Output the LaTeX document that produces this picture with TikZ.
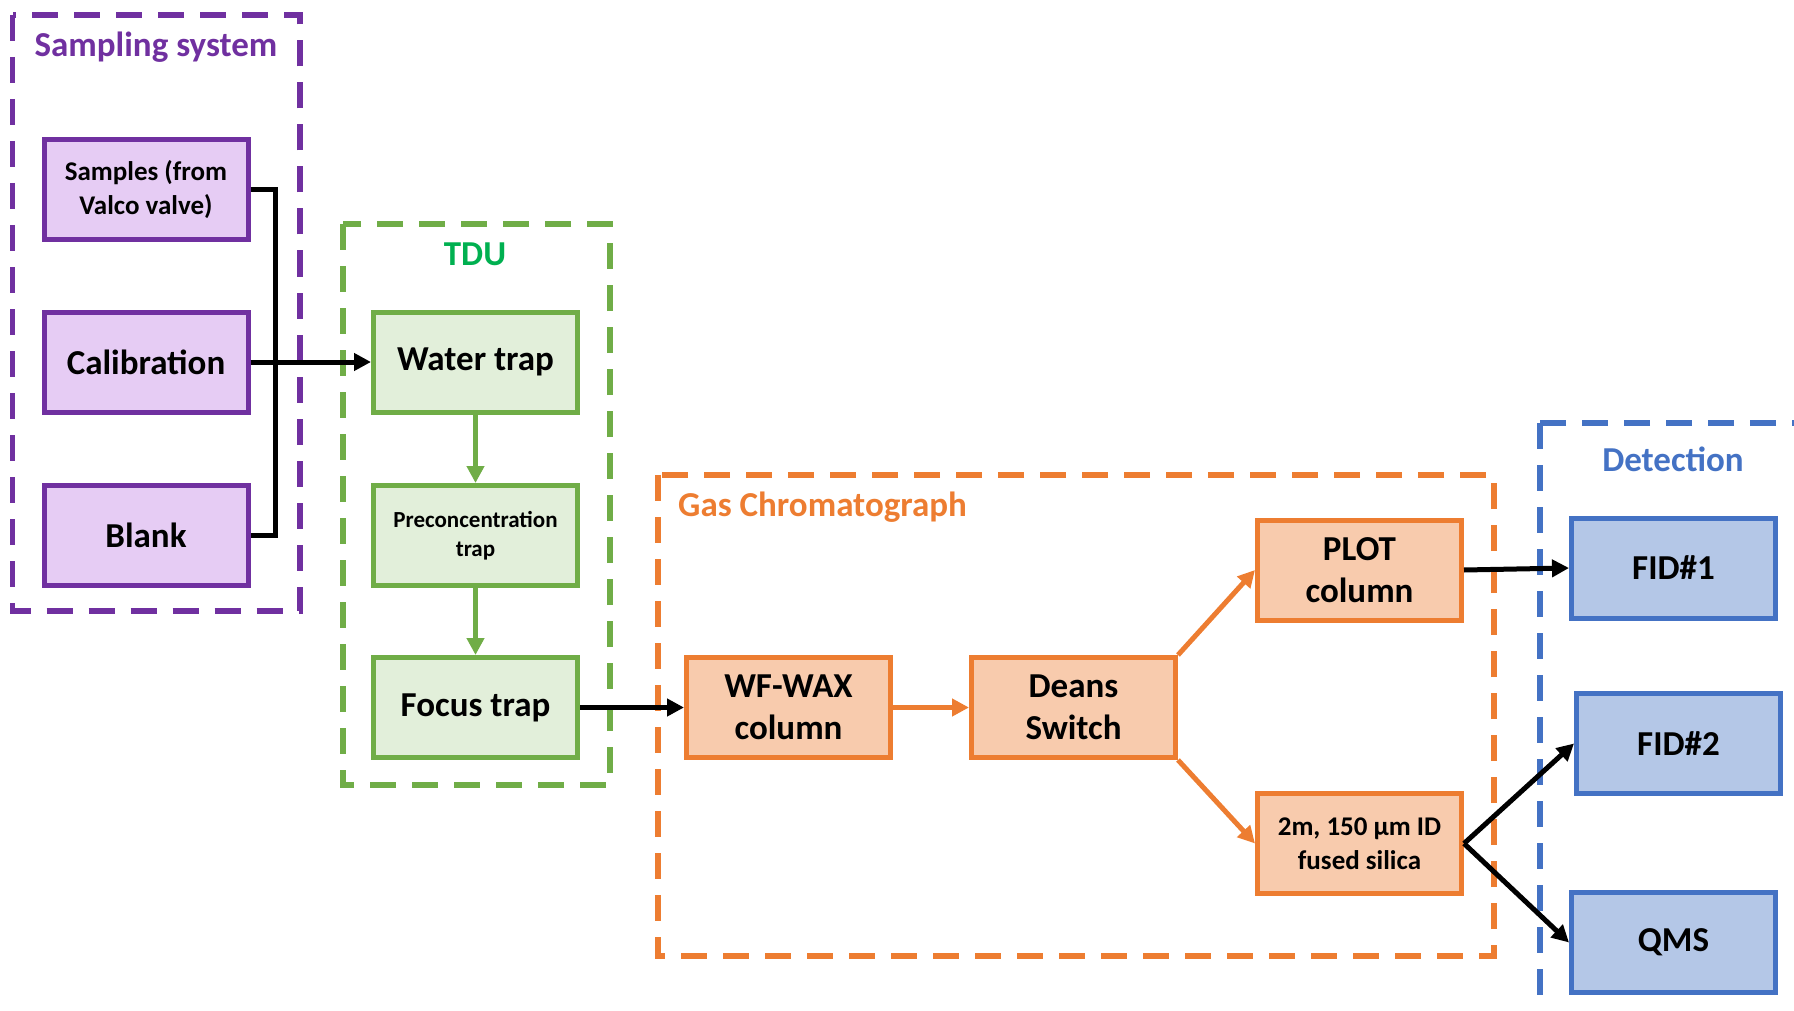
\documentclass[tikz,border=0pt]{standalone}
\usepackage{fontspec}
\setmainfont{Carlito}
\usetikzlibrary{arrows.meta}

\definecolor{purpleline}{HTML}{7030A0}
\definecolor{purplefill}{HTML}{E6CCF4}
\definecolor{greenline}{HTML}{70AD47}
\definecolor{greenfill}{HTML}{E2EFDA}
\definecolor{greentitle}{HTML}{00B050}
\definecolor{orangeline}{HTML}{ED7D31}
\definecolor{orangefill}{HTML}{F8CBAD}
\definecolor{blueline}{HTML}{4472C4}
\definecolor{bluefill}{HTML}{B4C7E7}

\tikzset{
  unitbox/.style={draw, line width=5pt, rectangle, minimum width=204pt, minimum height=100pt,
    align=center, font=\bfseries\fontsize{35}{42}\selectfont, inner sep=2pt},
  sampbox/.style={unitbox, draw=purpleline, fill=purplefill},
  tdubox/.style={unitbox, draw=greenline, fill=greenfill},
  gcbox/.style={unitbox, draw=orangeline, fill=orangefill},
  detbox/.style={unitbox, draw=blueline, fill=bluefill},
  groupbox/.style={line width=5.5pt, dash pattern=on 26pt off 16pt},
  grouptitle/.style={font=\bfseries\fontsize{35}{42}\selectfont, inner sep=0pt},
  conn/.style={line width=5pt, black},
  blackarrow/.style={conn, -{Triangle[length=17pt,width=17pt]}},
  greenarrow/.style={line width=5pt, greenline, -{Triangle[length=17pt,width=17pt]}},
  orangearrow/.style={line width=5pt, orangeline, -{Triangle[length=17pt,width=17pt]}},
}

\begin{document}
\begin{tikzpicture}[x=1pt, y=-1pt]
  \useasboundingbox (0,0) rectangle (1794,1011);
  \clip (0,0) rectangle (1794,1011);

  % group frames
  \draw[groupbox, purpleline] (12.5,15) rectangle (300,611);
  \draw[groupbox, greenline] (343,224) rectangle (610,785);
  \draw[groupbox, orangeline] (658,475) rectangle (1494,956);
  \draw[groupbox, blueline] (1540,423) rectangle (1840,1060);

  % group titles
  \node[grouptitle, text=purpleline] (tsamp) at (156,47) {Sampling system};
  \node[grouptitle, text=greentitle] (ttdu) at (475,254) {TDU};
  \node[grouptitle, text=orangeline, anchor=west] (tgc) at (678,507) {Gas Chromatograph};
  \node[grouptitle, text=blueline] (tdet) at (1673,459) {Detection};

  % sampling system
  \node[sampbox, font=\bfseries\fontsize{27}{34}\selectfont] (samples) at (146,189.5) {Samples (from\\Valco valve)};
  \node[sampbox] (calib) at (146,362) {Calibration};
  \node[sampbox] (blank) at (146,535.5) {Blank};

  % thermal desorption unit
  \node[tdubox] (water) at (475.5,362) {Water trap};
  \node[tdubox, font=\bfseries\fontsize{23}{29}\selectfont] (precon) at (475.5,535.5) {Preconcentration\\trap};
  \node[tdubox] (focus) at (475.5,707.5) {Focus trap};

  % gas chromatograph
  \node[gcbox] (wax) at (788.5,707.5) {WF-WAX\\column};
  \node[gcbox] (deans) at (1073.5,707.5) {Deans\\Switch};
  \node[gcbox] (plot) at (1359.5,570) {PLOT\\column};
  \node[gcbox, font=\bfseries\fontsize{27}{34}\selectfont] (silica) at (1359.5,843.5) {2m, 150 µm ID\\fused silica};

  % detectors
  \node[detbox] (fid1) at (1673.5,568) {FID\#1};
  \node[detbox] (fid2) at (1678.5,743.5) {FID\#2};
  \node[detbox] (qms) at (1673.5,942.5) {QMS};

  % sample selection manifold
  \coordinate (bus) at (275,0);
  \draw[conn] (samples.east) -- (samples.east -| bus) -- (blank.east -| bus) -- (blank.east);
  \draw[blackarrow] (calib.east) -- (water.west);

  % flow path
  \draw[greenarrow] (water.south) -- (precon.north);
  \draw[greenarrow] (precon.south) -- (focus.north);
  \draw[blackarrow] (focus.east) -- (wax.west);
  \draw[orangearrow] (wax.east) -- (deans.west);
  \draw[orangearrow] (deans.north east) -- (plot.west);
  \draw[orangearrow] (deans.south east) -- (silica.west);
  \draw[blackarrow] (plot.east) -- (fid1.west);
  \draw[blackarrow] (silica.east) -- (fid2.west);
  \draw[blackarrow] (silica.east) -- (qms.west);
\end{tikzpicture}
\end{document}
